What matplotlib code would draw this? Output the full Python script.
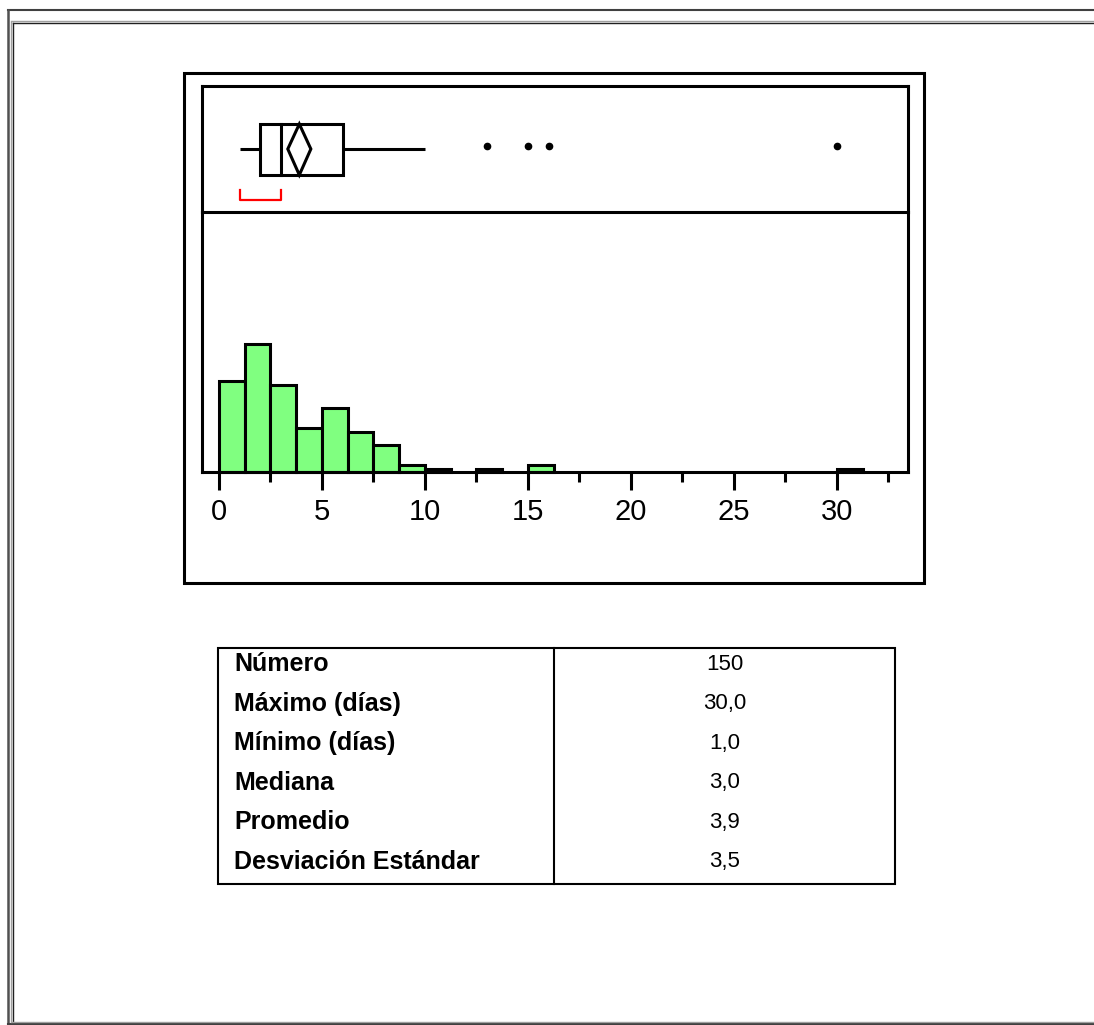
import numpy as np
import matplotlib
matplotlib.use("Agg")
import matplotlib.pyplot as plt
from matplotlib.patches import Rectangle, Polygon

plt.rcParams["font.family"] = ["Liberation Sans", "DejaVu Sans"]

W, H = 1094, 1025

# histogram of stay length (days), bins of 1.25 starting at 0
bin_width = 1.25
bin_counts = [27, 38, 26, 13, 19, 12, 8, 2, 1, 0, 1, 0, 2,
              0, 0, 0, 0, 0, 0, 0, 0, 0, 0, 0, 1]

# box plot summary
whisker_lo, q1, median, q3, whisker_hi = 1.0, 2.0, 3.0, 6.0, 10.0
outliers = [13, 15, 16, 30]
mean = 3.9
mean_ci = (3.34, 4.46)
shortest_half = (1.0, 3.0)

x_ticks = [0, 5, 10, 15, 20, 25, 30]
x_minor = [2.5, 7.5, 12.5, 17.5, 22.5, 27.5, 32.5]

stat_names = ["Número", "Máximo (días)", "Mínimo (días)", "Mediana",
              "Promedio", "Desviación Estándar"]
stat_values = ["150", "30,0", "1,0", "3,0", "3,9", "3,5"]

LW = 2.2  # ~3 px at 100 dpi
GREEN = "#80ff80"


def px_rect(x0, y0, x1, y1):
    # pixel box (top-left origin) -> figure fraction rect
    return [x0 / W, 1 - y1 / H, (x1 - x0) / W, (y1 - y0) / H]


fig = plt.figure(figsize=(W / 100, H / 100), dpi=100)

# overlay in pixel space for frames and the table
bg = fig.add_axes([0, 0, 1, 1])
bg.set_xlim(0, W)
bg.set_ylim(H, 0)
bg.axis("off")

# window-style double border (open on the right)
bg.plot([7.5, W], [10, 10], color="#404040", lw=1.5)
bg.plot([7.5, 7.5], [10, 1024], color="#505050", lw=1.8)
bg.plot([7.5, W], [1024, 1024], color="#404040", lw=1.5)
bg.plot([11.5, W], [21, 21], color="#a0a0a0", lw=1.0)
bg.plot([12.5, W], [23, 23], color="#202020", lw=1.0)
bg.plot([11, 11], [21, 1022], color="#a0a0a0", lw=1.0)
bg.plot([12.5, 12.5], [23, 1021], color="#202020", lw=1.0)
bg.plot([11.5, W], [1021.5, 1021.5], color="#a0a0a0", lw=1.0)

# chart outer frame
bg.add_patch(Rectangle((184, 72.5), 740, 510, fill=False, ec="black", lw=LW))

xlim = (-0.825, 33.45)

# histogram panel
axh = fig.add_axes(px_rect(202, 212, 908, 472))
axh.patch.set_visible(False)
axh.set_xlim(*xlim)
axh.set_ylim(0, 77.4)
axh.spines["top"].set_visible(False)
for s in ("left", "right", "bottom"):
    axh.spines[s].set_linewidth(LW)
lefts = np.arange(len(bin_counts)) * bin_width
counts = np.array(bin_counts)
keep = counts > 0
axh.bar(lefts[keep], counts[keep], width=bin_width, align="edge",
        color=GREEN, edgecolor="black", linewidth=LW, clip_on=False)
axh.set_yticks([])
axh.set_xticks(x_ticks)
axh.set_xticks(x_minor, minor=True)
axh.tick_params(axis="x", which="major", direction="out", length=13, width=LW,
                pad=6, labelsize=21)
axh.tick_params(axis="x", which="minor", direction="out", length=7, width=LW)

# box plot panel
axb = fig.add_axes(px_rect(202, 86, 908, 212))
axb.patch.set_visible(False)
axb.set_xlim(*xlim)
axb.set_ylim(0, 1)
for s in axb.spines.values():
    s.set_linewidth(LW)
axb.set_xticks([])
axb.set_yticks([])
yb0, yb1, ymid = 0.294, 0.698, 0.5
axb.plot([whisker_lo, q1], [ymid, ymid], color="black", lw=LW, solid_capstyle="butt")
axb.plot([q3, whisker_hi], [ymid, ymid], color="black", lw=LW, solid_capstyle="butt")
axb.add_patch(Rectangle((q1, yb0), q3 - q1, yb1 - yb0, fill=False, ec="black", lw=LW))
axb.plot([median, median], [yb0, yb1], color="black", lw=LW)
axb.add_patch(Polygon([(mean_ci[0], ymid), (mean, yb1), (mean_ci[1], ymid), (mean, yb0)],
                      closed=True, fill=False, ec="black", lw=LW))
axb.plot(outliers, [0.52] * len(outliers), "o", color="black", ms=4.5)
axb.plot([shortest_half[0], shortest_half[0], shortest_half[1], shortest_half[1]],
         [0.175, 0.095, 0.095, 0.175], color="red", lw=1.6)

# summary table
tx0, ty0, tx1, ty1 = 218, 648, 895, 884
tdiv = 554
bg.add_patch(Rectangle((tx0, ty0), tx1 - tx0, ty1 - ty0, fill=False, ec="black", lw=1.5))
bg.plot([tdiv, tdiv], [ty0, ty1], color="black", lw=1.5)
row_h = 39.6
for i, (name, val) in enumerate(zip(stat_names, stat_values)):
    yc = 664 + i * row_h
    bg.text(234, yc, name, fontsize=18, fontweight="bold", ha="left", va="center")
    bg.text((tdiv + tx1) / 2, yc, val, fontsize=16, ha="center", va="center")

fig.savefig("out.png", dpi=100)
